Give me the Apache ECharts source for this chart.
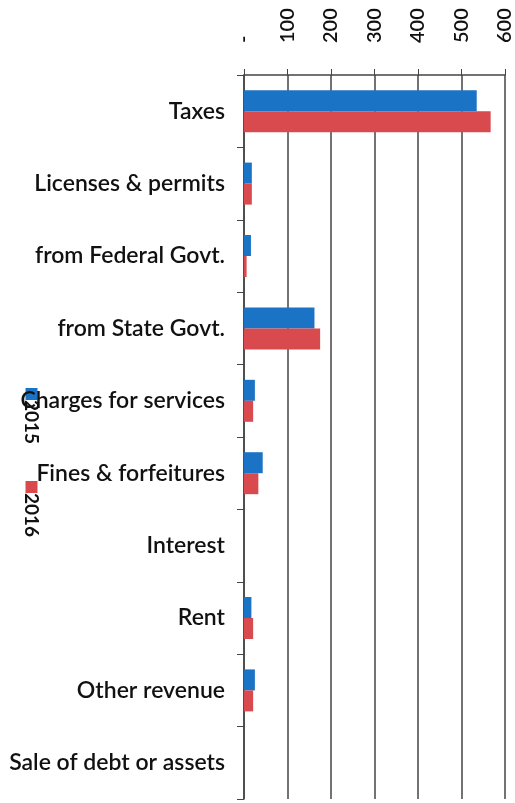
<!DOCTYPE html>
<html>
<head>
<meta charset="utf-8">
<script src="https://cdn.jsdelivr.net/npm/echarts@6/dist/echarts.min.js"></script>
<style>
  html, body { margin: 0; padding: 0; background: #fff; }
  #chart { width: 515px; height: 803px; }
</style>
</head>
<body>
<div id="chart"></div>
<script>
const categories = ['Taxes', 'Licenses & permits', 'from Federal Govt.', 'from State Govt.',
  'Charges for services', 'Fines & forfeitures', 'Interest', 'Rent', 'Other revenue',
  'Sale of debt or assets']
const values2015 = [535, 18, 16, 162, 25, 43, 0, 17, 25, 0]
const values2016 = [567, 18, 6, 175, 21, 33, 0, 21, 21, 0]
const seriesNames = ['2015', '2016']
const seriesColors = ['#1b73c6', '#d84a4e']

const chart = echarts.init(document.getElementById('chart'))

// legend drawn by hand: the original has its text turned 90 degrees
const legendGraphic = seriesNames.map((name, i) => ({
  type: 'group',
  left: 22,
  top: 388 + i * 93,
  children: [
    { type: 'rect', shape: { x: 0, y: 0, width: 12, height: 12 }, style: { fill: seriesColors[i] } },
    {
      type: 'text', x: 6, y: 12, rotation: -Math.PI / 2,
      style: { text: name, fill: '#111', font: 'bold 19px Lato', textAlign: 'left', textVerticalAlign: 'middle' }
    }
  ]
}))

const option = {
  animation: false,
  textStyle: { fontFamily: 'Lato' },
  grid: { left: 244, top: 75, right: 9, bottom: 4, containLabel: false },
  xAxis: {
    type: 'value',
    position: 'top',
    min: 0,
    max: 600,
    interval: 100,
    axisLine: { show: true, lineStyle: { color: '#444', width: 1.5 } },
    axisTick: { show: true, inside: false, length: 6, lineStyle: { color: '#444' } },
    splitLine: { show: true, lineStyle: { color: '#444', width: 1.5 } },
    axisLabel: {
      rotate: -90,
      margin: 32,
      color: '#111',
      fontSize: 20,
      fontWeight: 600,
      fontFamily: 'Lato',
      formatter: (v) => v === 0 ? '-' : String(v)
    }
  },
  yAxis: {
    type: 'category',
    inverse: true,
    data: categories,
    axisLine: { show: true, lineStyle: { color: '#444', width: 1.5 } },
    axisTick: { show: true, length: 7, lineStyle: { color: '#444' } },
    axisLabel: { color: '#111', fontSize: 23, fontWeight: 600, fontFamily: 'Lato', margin: 19, padding: [4, 0, 0, 0] }
  },
  series: [
    { name: seriesNames[0], type: 'bar', data: values2015, itemStyle: { color: seriesColors[0] }, barGap: 0, barCategoryGap: '42%' },
    { name: seriesNames[1], type: 'bar', data: values2016, itemStyle: { color: seriesColors[1] }, barGap: 0, barCategoryGap: '42%' }
  ],
  graphic: legendGraphic
}

chart.setOption(option)
</script>
</body>
</html>
